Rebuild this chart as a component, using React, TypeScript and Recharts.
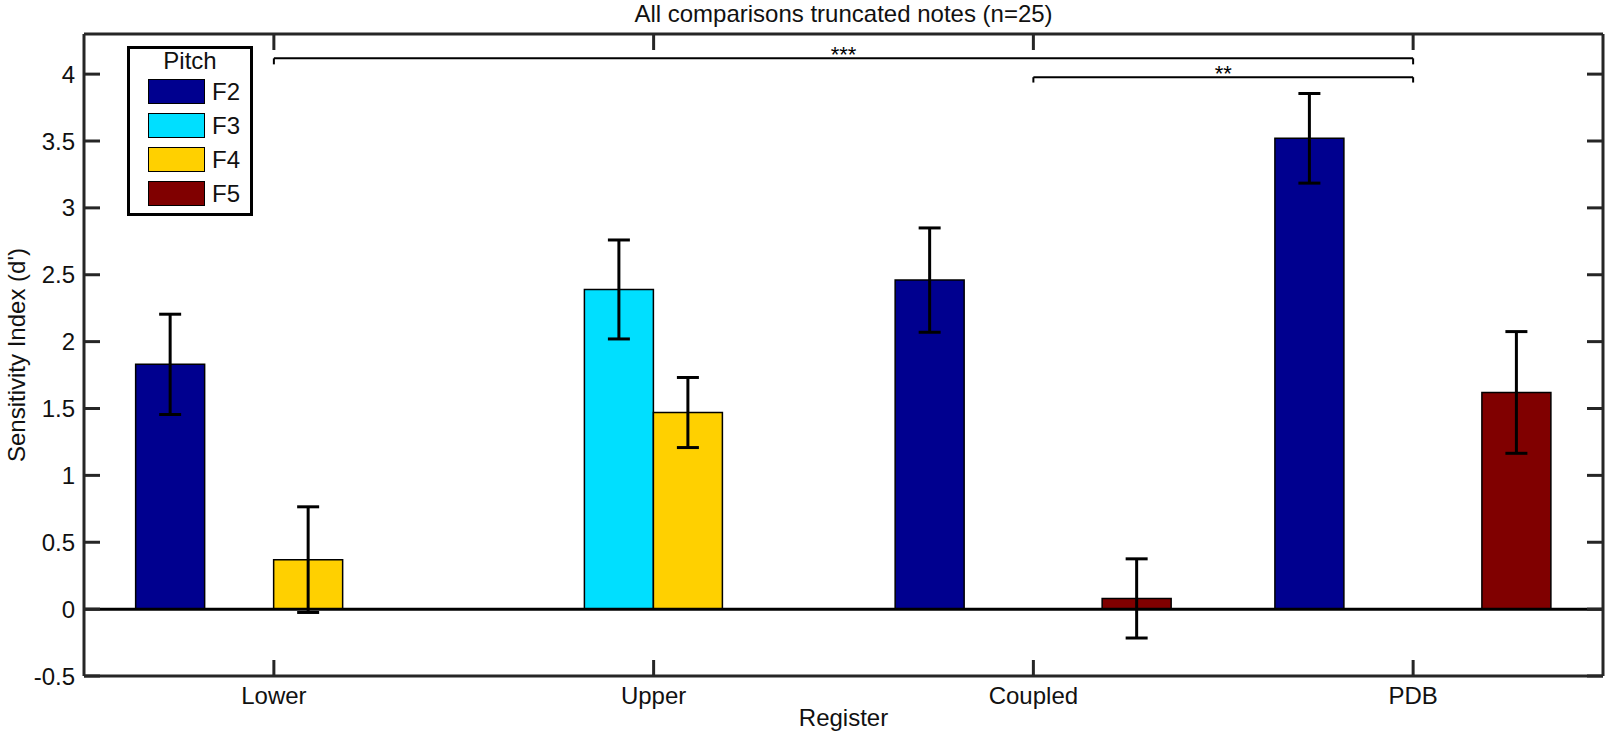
import {
  Bar,
  BarChart,
  ErrorBar,
  Legend,
  ReferenceLine,
  XAxis,
  YAxis,
} from "recharts";

const registers = ["Lower", "Upper", "Coupled", "PDB"];
const f2 = [1.83, null, 2.46, 3.52];
const f2Err = [0.375, null, 0.39, 0.335];
const f3 = [null, 2.39, null, null];
const f3Err = [null, 0.37, null, null];
const f4 = [0.37, 1.47, null, null];
const f4Err = [0.395, 0.262, null, null];
const f5 = [null, null, 0.08, 1.62];
const f5Err = [null, null, 0.296, 0.455];

const yTicks = [-0.5, 0, 0.5, 1, 1.5, 2, 2.5, 3, 3.5, 4];

const pitches = [
  { key: "f2", name: "F2", color: "#00008F" },
  { key: "f3", name: "F3", color: "#00DFFF" },
  { key: "f4", name: "F4", color: "#FFD000" },
  { key: "f5", name: "F5", color: "#800000" },
];

const brackets = [
  { from: "Lower", to: "PDB", y: 4.118, drop: 0.045, label: "***" },
  { from: "Coupled", to: "PDB", y: 3.977, drop: 0.04, label: "**" },
];

const data = registers.map((register, i) => ({
  register,
  f2: f2[i],
  f2Err: f2Err[i],
  f3: f3[i],
  f3Err: f3Err[i],
  f4: f4[i],
  f4Err: f4Err[i],
  f5: f5[i],
  f5Err: f5Err[i],
}));

const font = '"Liberation Sans", Arial, Helvetica, sans-serif';
const axisColor = "#262626";
const TICK = 16;

function BottomTick({ x, y, payload }: any) {
  return (
    <g>
      <line x1={x} x2={x} y1={y} y2={y - TICK} stroke={axisColor} strokeWidth={3} />
      <text x={x} y={y + 11} dy="0.71em" textAnchor="middle" fontSize={24} fontFamily={font} fill="#111">
        {payload.value}
      </text>
    </g>
  );
}

function TopTick({ x, y }: any) {
  return <line x1={x} x2={x} y1={y} y2={y + TICK} stroke={axisColor} strokeWidth={3} />;
}

function LeftTick({ x, y, payload }: any) {
  return (
    <g>
      <line x1={x} x2={x + TICK} y1={y} y2={y} stroke={axisColor} strokeWidth={3} />
      <text x={x - 9} y={y} dy="0.355em" textAnchor="end" fontSize={24} fontFamily={font} fill="#111">
        {payload.value}
      </text>
    </g>
  );
}

function RightTick({ x, y }: any) {
  return <line x1={x} x2={x - TICK} y1={y} y2={y} stroke={axisColor} strokeWidth={3} />;
}

function PitchLegend() {
  return (
    <div
      style={{
        position: "relative",
        boxSizing: "border-box",
        width: 126,
        height: 170,
        border: "3px solid #000",
        background: "#fff",
        fontFamily: font,
        fontSize: 24,
        color: "#111",
      }}
    >
      <div style={{ position: "absolute", top: 0, left: 0, width: "100%", textAlign: "center", lineHeight: "24px" }}>
        Pitch
      </div>
      {pitches.map((p, i) => (
        <div key={p.key} style={{ position: "absolute", left: 18, top: 30 + i * 34, height: 25, display: "flex", alignItems: "center" }}>
          <div
            style={{
              boxSizing: "border-box",
              width: 57,
              height: 25,
              background: p.color,
              border: "1.5px solid #000",
            }}
          />
          <span style={{ marginLeft: 7, lineHeight: "25px" }}>{p.name}</span>
        </div>
      ))}
    </div>
  );
}

export default function App() {
  return (
    <div style={{ position: "absolute", left: 0, top: 0, background: "#fff", fontFamily: font }}>
      <BarChart
        width={1610}
        height={740}
        data={data}
        margin={{ top: 0, right: 0, bottom: 0, left: 0 }}
        barCategoryGap="13.6%"
        barGap={0}
      >
        <XAxis
          dataKey="register"
          height={64}
          interval={0}
          tickSize={0}
          tickMargin={0}
          tickLine={false}
          tick={<BottomTick />}
          axisLine={{ stroke: axisColor, strokeWidth: 3 }}
          label={{ value: "Register", position: "insideBottom", offset: 14, fontSize: 24, fill: "#111" }}
        />
        <XAxis
          xAxisId="top"
          orientation="top"
          dataKey="register"
          height={34}
          interval={0}
          tickSize={0}
          tickMargin={0}
          tickLine={false}
          tick={<TopTick />}
          axisLine={{ stroke: axisColor, strokeWidth: 3 }}
          label={{ value: "All comparisons truncated notes (n=25)", position: "center", dy: -4, fontSize: 24, fill: "#111" }}
        />
        <YAxis
          width={84}
          domain={[-0.5, 4.3]}
          ticks={yTicks}
          interval={0}
          allowDataOverflow
          tickSize={0}
          tickMargin={0}
          tickLine={false}
          tick={<LeftTick />}
          axisLine={{ stroke: axisColor, strokeWidth: 3 }}
          label={{ value: "Sensitivity Index (d')", angle: -90, position: "center", dx: -26, fontSize: 24, fill: "#111" }}
        />
        <YAxis
          yAxisId="right"
          orientation="right"
          width={7}
          domain={[-0.5, 4.3]}
          ticks={yTicks}
          interval={0}
          allowDataOverflow
          tickSize={0}
          tickMargin={0}
          tickLine={false}
          tick={<RightTick />}
          axisLine={{ stroke: axisColor, strokeWidth: 3 }}
        />
        <Legend
          layout="vertical"
          align="center"
          verticalAlign="middle"
          wrapperStyle={{ left: 127, top: 46, width: 126 }}
          content={() => <PitchLegend />}
        />
        {pitches.map((p) => (
          <Bar
            key={p.key}
            dataKey={p.key}
            name={p.name}
            fill={p.color}
            stroke="#000"
            strokeWidth={1.5}
            isAnimationActive={false}
          >
            <ErrorBar dataKey={`${p.key}Err`} direction="y" width={11} stroke="#000" strokeWidth={3} isAnimationActive={false} />
          </Bar>
        ))}
        <ReferenceLine y={0} stroke="#000" strokeWidth={3} />
        {brackets.map((b) => (
          <ReferenceLine
            key={`${b.from}-${b.to}`}
            segment={[
              { x: b.from, y: b.y },
              { x: b.to, y: b.y },
            ]}
            stroke="#000"
            strokeWidth={2}
            ifOverflow="visible"
            label={{ value: b.label, position: "center", dy: -4, fontSize: 22, fill: "#000" }}
          />
        ))}
        {brackets.flatMap((b) =>
          [b.from, b.to].map((end) => (
            <ReferenceLine
              key={`${b.label}-${end}`}
              segment={[
                { x: end, y: b.y },
                { x: end, y: b.y - b.drop },
              ]}
              stroke="#000"
              strokeWidth={2}
              ifOverflow="visible"
            />
          ))
        )}
      </BarChart>
    </div>
  );
}
